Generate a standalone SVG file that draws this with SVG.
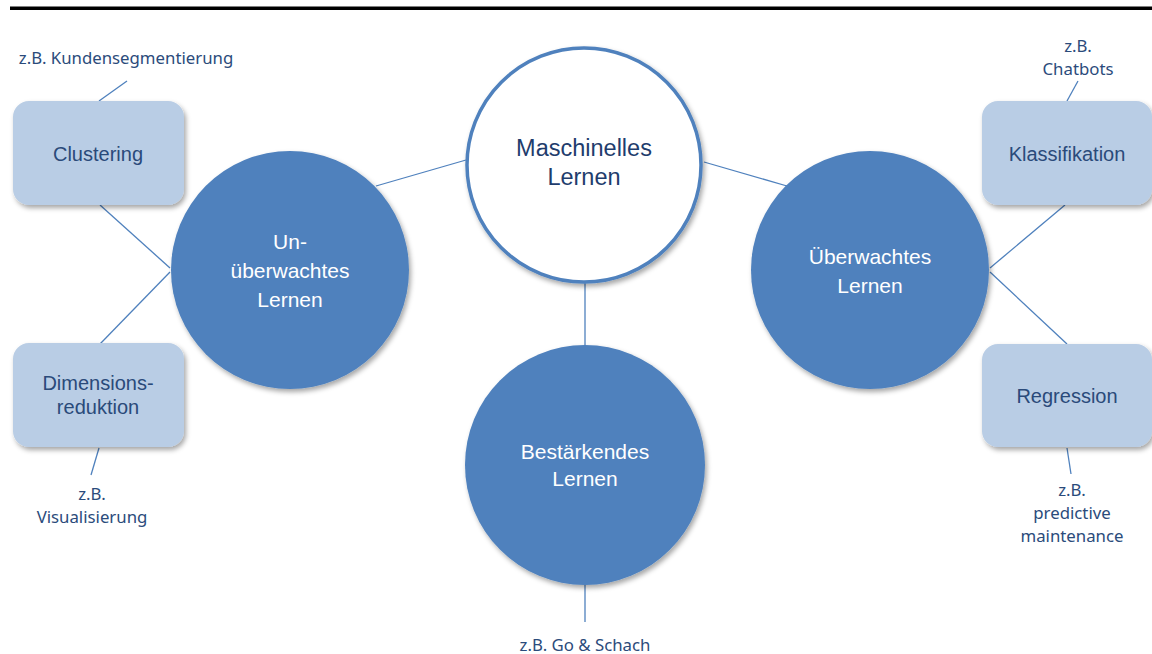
<svg xmlns="http://www.w3.org/2000/svg" width="1152" height="654" viewBox="0 0 1152 654">
<defs>
<filter id="sh" x="-20%" y="-20%" width="140%" height="140%">
<feDropShadow dx="2" dy="3" stdDeviation="2.5" flood-color="#000" flood-opacity="0.35"/>
</filter>
</defs>
<style>
.con{stroke:#4f81bd;stroke-width:1.3;fill:none}
.big{fill:#4f81bd;filter:url(#sh)}
.box{fill:#b9cde5;filter:url(#sh)}
.ct{font-family:"Liberation Sans",Arial,sans-serif;font-size:21px;fill:#ffffff;text-anchor:middle}
.mt{font-family:"Liberation Sans",Arial,sans-serif;font-size:23.5px;fill:#1f3d6d;text-anchor:middle}
.bt{font-family:"Liberation Sans",Arial,sans-serif;font-size:20px;fill:#2a4a7a;text-anchor:middle}
.ex{font-family:"Noto Sans","Open Sans",sans-serif;font-size:16.8px;fill:#2b4b7b;text-anchor:middle}
</style>
<rect x="10" y="6.5" width="1142" height="3.5" fill="#000"/>
<g id="connectors">
<line class="con" x1="376" y1="186" x2="466" y2="160"/>
<line class="con" x1="704" y1="162" x2="787" y2="186"/>
<line class="con" x1="585" y1="280" x2="585" y2="346"/>
<line class="con" x1="585" y1="585" x2="585" y2="622"/>
<line class="con" x1="170" y1="268" x2="100" y2="205"/>
<line class="con" x1="170" y1="272" x2="100" y2="344"/>
<line class="con" x1="990" y1="268" x2="1065" y2="205"/>
<line class="con" x1="990" y1="272" x2="1067" y2="344"/>
<line class="con" x1="99" y1="101" x2="127" y2="81"/>
<line class="con" x1="99" y1="448" x2="91" y2="475"/>
<line class="con" x1="1067" y1="101" x2="1078" y2="81"/>
<line class="con" x1="1067" y1="448" x2="1071" y2="474"/>
</g>
<g id="ml">
<circle cx="584" cy="165" r="117" fill="#ffffff" stroke="#4f81bd" stroke-width="3.5" filter="url(#sh)"/>
<text class="mt" x="584" y="156">Maschinelles</text>
<text class="mt" x="584" y="185">Lernen</text>
</g>
<g id="unsupervised">
<circle class="big" cx="290" cy="270" r="119"/>
<text class="ct" x="290" y="249">Un-</text>
<text class="ct" x="290" y="278">überwachtes</text>
<text class="ct" x="290" y="307">Lernen</text>
</g>
<g id="supervised">
<circle class="big" cx="870" cy="270" r="119"/>
<text class="ct" x="870" y="264">Überwachtes</text>
<text class="ct" x="870" y="293">Lernen</text>
</g>
<g id="reinforcement">
<circle class="big" cx="585" cy="465" r="120"/>
<text class="ct" x="585" y="459">Bestärkendes</text>
<text class="ct" x="585" y="486">Lernen</text>
</g>
<g id="clustering">
<rect class="box" x="13" y="101" width="171" height="104" rx="16"/>
<text class="bt" x="98" y="161">Clustering</text>
</g>
<g id="dimred">
<rect class="box" x="13" y="343" width="171" height="104" rx="16"/>
<text class="bt" x="98" y="390">Dimensions-</text>
<text class="bt" x="98" y="414">reduktion</text>
</g>
<g id="klass">
<rect class="box" x="982" y="101" width="170" height="104" rx="16"/>
<text class="bt" x="1067" y="161">Klassifikation</text>
</g>
<g id="regr">
<rect class="box" x="982" y="344" width="170" height="103" rx="16"/>
<text class="bt" x="1067" y="403">Regression</text>
</g>
<g id="ex-clustering">
<text class="ex" x="126" y="64">z.B. Kundensegmentierung</text>
</g>
<g id="ex-dimred">
<text class="ex" x="92" y="500">z.B.</text>
<text class="ex" x="92" y="523">Visualisierung</text>
</g>
<g id="ex-klass">
<text class="ex" x="1078" y="52">z.B.</text>
<text class="ex" x="1078" y="75">Chatbots</text>
</g>
<g id="ex-regr">
<text class="ex" x="1072" y="496">z.B.</text>
<text class="ex" x="1072" y="519">predictive</text>
<text class="ex" x="1072" y="542">maintenance</text>
</g>
<g id="ex-reinf">
<text class="ex" x="585" y="651">z.B. Go &amp; Schach</text>
</g>
</svg>
